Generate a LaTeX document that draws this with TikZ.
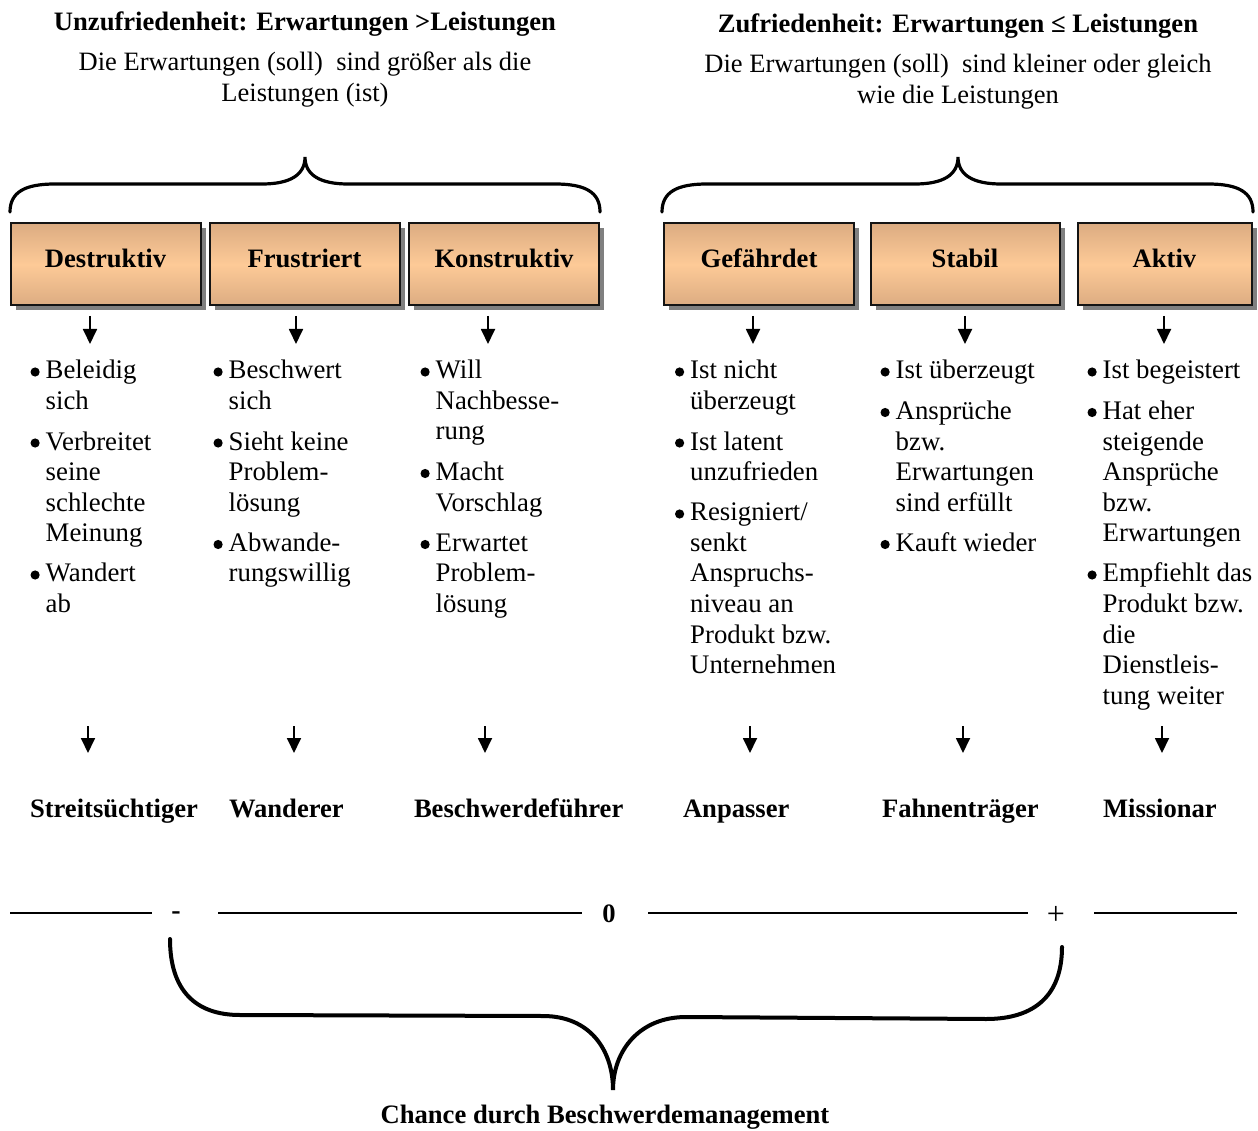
\documentclass[tikz,border=0pt]{standalone}
\usepackage{fontspec}
\setmainfont{Liberation Serif}
\usetikzlibrary{arrows.meta,shadows}

\definecolor{boxedge}{RGB}{220,172,130}
\definecolor{boxcore}{RGB}{253,202,151}
\definecolor{shadowgrey}{RGB}{128,128,128}
\definecolor{ink}{RGB}{20,20,20}

% round list bullet, 9pt across, centred 7pt above the baseline
\newcommand{\bl}{\tikz[baseline=0pt]{\path (0pt,0pt) rectangle (8pt,1pt); \fill[black] (4pt,7pt) circle (4.6pt);}}

\begin{document}
\begin{tikzpicture}[x=1pt,y=-1pt,
  every node/.style={inner sep=0pt, outer sep=0pt},
  txt/.style={font=\fontsize{26.5}{31}\selectfont, align=center},
  head/.style={align=center, font=\bfseries\fontsize{26.6}{31}\selectfont},
  cat/.style={draw=ink, line width=2pt, minimum height=82pt,
    top color=boxedge, bottom color=boxedge, middle color=boxcore,
    text height=18pt, text depth=12pt,
    font=\bfseries\fontsize{26.6}{31}\selectfont,
    drop shadow={shadow xshift=5pt, shadow yshift=-5pt, fill=shadowgrey, opacity=1}},
  list/.style={anchor=base west, font=\fontsize{26.8}{30.5}\selectfont},
  type/.style={anchor=base west, font=\bfseries\fontsize{26.6}{31}\selectfont},
  arr/.style={line width=1.8pt, -{Triangle[length=15pt,width=14pt]}},
  brace/.style={line width=3.2pt, line cap=round},
  bigbrace/.style={line width=4pt, line cap=round},
  axis/.style={line width=1.6pt}
]
\useasboundingbox (0,0) rectangle (1258,1131);

% headings
\node[head] (tl) at (305,24) {Unzufriedenheit: Erwartungen >Leistungen};
\node[txt]  (sl) at (305,80) {Die Erwartungen (soll)\ \ sind größer als die\\Leistungen (ist)};
\node[head] (tr) at (958,26) {Zufriedenheit: Erwartungen ≤ Leistungen};
\node[txt]  (sr) at (958,82) {Die Erwartungen (soll)\ \ sind kleiner oder gleich\\wie die Leistungen};

% upper braces
\draw[brace] (10,212) .. controls (10,192) and (25,184) .. (55,184) -- (262,184)
  .. controls (290,184) and (305,175) .. (305,157)
  .. controls (305,175) and (320,184) .. (348,184) -- (555,184)
  .. controls (585,184) and (600,192) .. (600,212);
\draw[brace] (662,212) .. controls (662,192) and (677,184) .. (707,184) -- (915,184)
  .. controls (943,184) and (958,175) .. (958,157)
  .. controls (958,175) and (973,184) .. (1001,184) -- (1208,184)
  .. controls (1238,184) and (1253,192) .. (1253,212);

% category boxes
\node[cat, minimum width=190pt] (b1) at (105.5,264.5) {Destruktiv};
\node[cat, minimum width=190pt] (b2) at (304.5,264.5) {Frustriert};
\node[cat, minimum width=190pt] (b3) at (504,264.5) {Konstruktiv};
\node[cat, minimum width=190pt] (b4) at (759,264.5) {Gefährdet};
\node[cat, minimum width=189pt] (b5) at (965,264.5) {Stabil};
\node[cat, minimum width=174pt] (b6) at (1164.5,264.5) {Aktiv};

% upper arrows
\foreach \i/\x in {1/90,2/296,3/488,4/753,5/965,6/1164}{
  \coordinate (u\i s) at (\x,316);
  \coordinate (u\i e) at (\x,344);
  \draw[arr] (u\i s) -- (u\i e);
}

% characteristics
\node[list] (l1) at (30.5,379) {\begin{tabular}[t]{@{}l@{\hspace{6pt}}l@{}}
\bl & Beleidig\\ & sich\\[10pt]
\bl & Verbreitet\\ & seine\\ & schlechte\\ & Meinung\\[10pt]
\bl & Wandert\\ & ab\end{tabular}};
\node[list] (l2) at (213.5,379) {\begin{tabular}[t]{@{}l@{\hspace{6pt}}l@{}}
\bl & Beschwert\\ & sich\\[10pt]
\bl & Sieht keine\\ & Problem-\\ & lösung\\[10pt]
\bl & Abwande-\\ & rungswillig\end{tabular}};
\node[list] (l3) at (420.5,379) {\begin{tabular}[t]{@{}l@{\hspace{6pt}}l@{}}
\bl & Will\\ & Nachbesse-\\ & rung\\[10pt]
\bl & Macht\\ & Vorschlag\\[10pt]
\bl & Erwartet\\ & Problem-\\ & lösung\end{tabular}};
\node[list] (l4) at (675,379) {\begin{tabular}[t]{@{}l@{\hspace{6pt}}l@{}}
\bl & Ist nicht\\ & überzeugt\\[10pt]
\bl & Ist latent\\ & unzufrieden\\[10pt]
\bl & Resigniert/\\ & senkt\\ & Anspruchs-\\ & niveau an\\ & Produkt bzw.\\ & Unternehmen\end{tabular}};
\node[list] (l5) at (880.5,379) {\begin{tabular}[t]{@{}l@{\hspace{6pt}}l@{}}
\bl & Ist überzeugt\\[10pt]
\bl & Ansprüche\\ & bzw.\\ & Erwartungen\\ & sind erfüllt\\[10pt]
\bl & Kauft wieder\end{tabular}};
\node[list] (l6) at (1087.5,379) {\begin{tabular}[t]{@{}l@{\hspace{6pt}}l@{}}
\bl & Ist begeistert\\[10pt]
\bl & Hat eher\\ & steigende\\ & Ansprüche\\ & bzw.\\ & Erwartungen\\[10pt]
\bl & Empfiehlt das\\ & Produkt bzw.\\ & die\\ & Dienstleis-\\ & tung weiter\end{tabular}};

% lower arrows
\foreach \i/\x in {1/88,2/294,3/485,4/750,5/963,6/1162}{
  \coordinate (d\i s) at (\x,726);
  \coordinate (d\i e) at (\x,753);
  \draw[arr] (d\i s) -- (d\i e);
}

% customer types
\node[type] (t1) at (30,817) {Streitsüchtiger};
\node[type] (t2) at (229,817) {Wanderer};
\node[type] (t3) at (414,817) {Beschwerdeführer};
\node[type] (t4) at (683,817) {Anpasser};
\node[type] (t5) at (882,817) {Fahnenträger};
\node[type] (t6) at (1103,817) {Missionar};

% scale from minus to plus
\node[font=\bfseries\fontsize{28}{31}\selectfont] (minus) at (176,916) {-};
\node[font=\bfseries\fontsize{26.6}{31}\selectfont] (zero) at (609,914) {0};
\node[font=\fontsize{32}{34}\selectfont] (plus) at (1056,915) {+};
\coordinate (s0) at (10,913);   \coordinate (s1) at (152,913);
\coordinate (s2) at (218,913);  \coordinate (s3) at (582,913);
\coordinate (s4) at (648,913);  \coordinate (s5) at (1028,913);
\coordinate (s6) at (1094,913); \coordinate (s7) at (1237,913);
\draw[axis] (s0) -- (s1);
\draw[axis] (s2) -- (s3);
\draw[axis] (s4) -- (s5);
\draw[axis] (s6) -- (s7);

% lower brace
\draw[bigbrace] (170,939) .. controls (170,990) and (195,1015) .. (240,1015) -- (543,1016)
  .. controls (590,1016) and (613,1050) .. (613,1090)
  .. controls (613,1050) and (640,1017) .. (686,1017) -- (986,1019)
  .. controls (1035,1019) and (1062,995) .. (1062,947);

\node[head] (ch) at (605,1117) {Chance durch Beschwerdemanagement};
\end{tikzpicture}
\end{document}
